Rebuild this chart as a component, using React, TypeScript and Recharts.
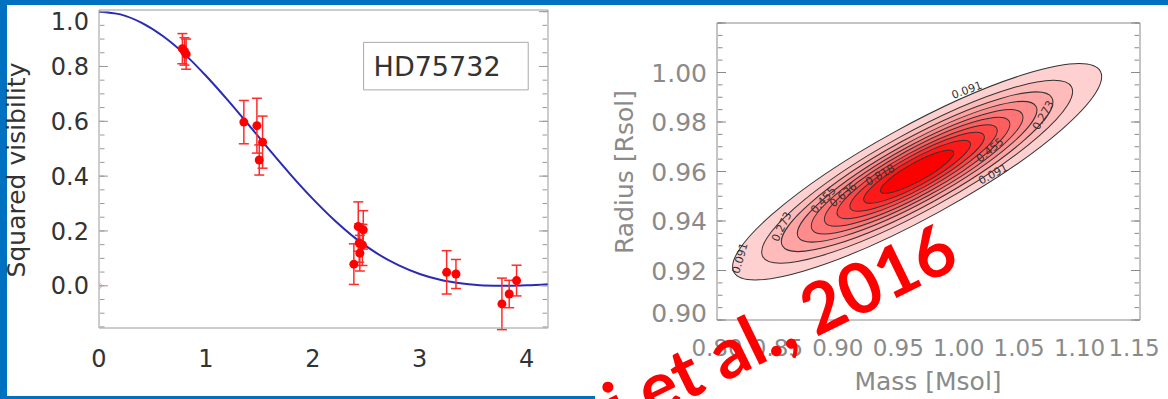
import React from "react";
import {
  ComposedChart,
  ScatterChart,
  Line,
  Scatter,
  XAxis,
  YAxis,
  ErrorBar,
  ReferenceArea,
} from "recharts";

// ---------- left panel: squared visibility of HD75732 ----------
const fitX = [0, 0.2, 0.4, 0.6, 0.8, 1.0, 1.2, 1.4, 1.6, 1.8, 2.0, 2.2, 2.4, 2.6, 2.8, 3.0, 3.2, 3.4, 3.6, 3.8, 4.0, 4.2];
const fitV2 = [1.0, 0.99, 0.959, 0.91, 0.845, 0.766, 0.679, 0.587, 0.493, 0.402, 0.317, 0.24, 0.173, 0.118, 0.075, 0.043, 0.021, 0.008, 0.001, 0.0, 0.002, 0.006];

const obsX = [0.78, 0.8, 0.815, 1.355, 1.477, 1.53, 1.499, 2.384, 2.425, 2.472, 2.434, 2.464, 2.44, 3.252, 3.339, 3.769, 3.837, 3.906];
const obsV2 = [0.865, 0.855, 0.845, 0.597, 0.584, 0.524, 0.459, 0.079, 0.216, 0.204, 0.156, 0.149, 0.119, 0.049, 0.043, -0.066, -0.03, 0.019];
const obsErr = [0.055, 0.05, 0.055, 0.079, 0.1, 0.095, 0.055, 0.074, 0.09, 0.07, 0.07, 0.075, 0.065, 0.079, 0.053, 0.094, 0.05, 0.056];

const visXTicks = [0, 1, 2, 3, 4];
const visYTicks = [0, 0.2, 0.4, 0.6, 0.8, 1.0];
const starName = "HD75732";

// ---------- right panel: mass / radius probability map ----------
const massTicks = [0.8, 0.85, 0.9, 0.95, 1.0, 1.05, 1.1, 1.15];
const radiusTicks = [0.9, 0.92, 0.94, 0.96, 0.98, 1.0];

const levels = [0.091, 0.182, 0.273, 0.364, 0.455, 0.545, 0.636, 0.727, 0.818, 0.909];
const peakMass = 0.9656;
const peakRadius = 0.9599;
// end of the long axis and end of the short axis of each contour
const majorEndMass = [1.1172, 1.0933, 1.0771, 1.064, 1.0525, 1.0418, 1.0314, 1.0208, 1.0095, 0.9958];
const majorEndRadius = [1.0005, 0.9942, 0.9898, 0.9863, 0.9832, 0.9803, 0.9775, 0.9747, 0.9717, 0.968];
const minorEndMass = [0.9473, 0.9502, 0.9521, 0.9537, 0.9551, 0.9564, 0.9577, 0.9589, 0.9603, 0.9619];
const minorEndRadius = [0.9761, 0.9736, 0.9719, 0.9704, 0.9692, 0.9681, 0.9669, 0.9658, 0.9646, 0.9632];

const labelText = ["0.091", "0.091", "0.091", "0.273", "0.273", "0.455", "0.455", "0.636", "0.818"];
const labelMass = [1.0067, 0.8191, 1.0285, 0.8536, 1.0701, 0.8881, 1.026, 0.9046, 0.935];
const labelRadius = [0.9928, 0.925, 0.9589, 0.9377, 0.9827, 0.9484, 0.9686, 0.9505, 0.9585];

// styles
const bandFill = ["#ffd0d0", "#ffbaba", "#ffa3a3", "#ff8c8c", "#ff7575", "#ff5e5e", "#ff4747", "#ff3030", "#ff1818", "#ff0000"];
const labelAngle = [-20, -74, -28, -64, -60, -48, -40, -40, -30];
const FONT = "DejaVu Sans";

const steps = (from: number, to: number, step: number) =>
  Array.from({ length: Math.round((to - from) / step) + 1 }, (_, i) => +(from + i * step).toFixed(4));

const Blank = () => <g />;

// inward tick marks on all four sides of a plot box
function frameAxes(
  xDomain: [number, number],
  yDomain: [number, number],
  xMajor: number[],
  xMinor: number[],
  yMajor: number[],
  yMinor: number[],
  color: string,
  big: number,
  small: number
) {
  const c = { tick: Blank, tickLine: { stroke: color }, interval: 0 as const, allowDataOverflow: true, type: "number" as const };
  return [
    <XAxis key="xb1" xAxisId="xb1" orientation="bottom" mirror height={1} domain={xDomain} ticks={xMajor} tickSize={big} axisLine={false} {...c} />,
    <XAxis key="xb2" xAxisId="xb2" orientation="bottom" mirror height={1} domain={xDomain} ticks={xMinor} tickSize={small} axisLine={false} {...c} />,
    <XAxis key="xt1" xAxisId="xt1" orientation="top" mirror height={1} domain={xDomain} ticks={xMajor} tickSize={big} axisLine={{ stroke: color }} {...c} />,
    <XAxis key="xt2" xAxisId="xt2" orientation="top" mirror height={1} domain={xDomain} ticks={xMinor} tickSize={small} axisLine={false} {...c} />,
    <YAxis key="yl1" yAxisId="yl1" orientation="left" mirror width={1} domain={yDomain} ticks={yMajor} tickSize={big} axisLine={false} {...c} />,
    <YAxis key="yl2" yAxisId="yl2" orientation="left" mirror width={1} domain={yDomain} ticks={yMinor} tickSize={small} axisLine={false} {...c} />,
    <YAxis key="yr1" yAxisId="yr1" orientation="right" mirror width={1} domain={yDomain} ticks={yMajor} tickSize={big} axisLine={{ stroke: color }} {...c} />,
    <YAxis key="yr2" yAxisId="yr2" orientation="right" mirror width={1} domain={yDomain} ticks={yMinor} tickSize={small} axisLine={false} {...c} />,
  ];
}

const RedDot = (p: any) => <circle cx={p.cx} cy={p.cy} r={4.5} fill="#ff0000" />;
const Diamond = (p: any) => (
  <polygon
    points={`${p.cx},${p.cy - 3.5} ${p.cx + 3.5},${p.cy} ${p.cx},${p.cy + 3.5} ${p.cx - 3.5},${p.cy}`}
    fill="none"
    stroke="#ff9a9a"
    strokeWidth={1}
  />
);

function drawEllipse(p: any, fill: string) {
  const pts = p.points;
  if (!pts || pts.length < 3) return <g />;
  const [c, m, n] = pts;
  const a = Math.hypot(m.x - c.x, m.y - c.y);
  const ux = (m.x - c.x) / a;
  const uy = (m.y - c.y) / a;
  const b = Math.abs((n.x - c.x) * -uy + (n.y - c.y) * ux);
  const ang = (Math.atan2(uy, ux) * 180) / Math.PI;
  return (
    <ellipse
      cx={c.x}
      cy={c.y}
      rx={a}
      ry={b}
      transform={`rotate(${ang} ${c.x} ${c.y})`}
      fill={fill}
      stroke="#333"
      strokeWidth={1}
    />
  );
}

const ContourLabel = (p: any) => (
  <text
    x={p.cx}
    y={p.cy}
    transform={`rotate(${labelAngle[p.payload.i]} ${p.cx} ${p.cy})`}
    textAnchor="middle"
    dominantBaseline="central"
    fontSize={11}
    fontFamily={FONT}
    fill="#333"
  >
    {p.payload.label}
  </text>
);

// IDL nudges the end labels inside the box
const VisTick = (p: any) => (
  <text
    x={p.x}
    y={p.y + (p.payload.value > 0.99 ? 10 : 0)}
    dy="0.36em"
    textAnchor="end"
    fill="#333"
    fontSize={24}
    fontFamily={FONT}
  >
    {Number(p.payload.value).toFixed(1)}
  </text>
);

const RadiusTick = (p: any) => (
  <text
    x={p.x}
    y={p.y + (p.payload.value < 0.905 ? -7 : 0)}
    dy="0.36em"
    textAnchor="end"
    fill="#8a8a8a"
    fontSize={25}
    fontFamily={FONT}
  >
    {Number(p.payload.value).toFixed(2)}
  </text>
);

const MassTick = (p: any) => (
  <text
    x={p.x + (p.payload.value > 1.14 ? -6 : 0)}
    y={p.y}
    dy="0.71em"
    textAnchor="middle"
    fill="#8a8a8a"
    fontSize={23}
    fontFamily={FONT}
  >
    {Number(p.payload.value).toFixed(2)}
  </text>
);

export default function App() {
  const fit = fitX.map((x, i) => ({ x, y: fitV2[i] }));
  const obs = obsX.map((x, i) => ({ x, y: obsV2[i], err: obsErr[i] }));
  const origin = [{ x: 0, y: 0 }];

  const visXDom: [number, number] = [0, 4.2];
  const visYDom: [number, number] = [-0.154, 1.006];
  const mDom: [number, number] = [0.8, 1.15];
  const rDom: [number, number] = [0.9, 1.02];
  const leftFrame = "#9a9a9a";
  const rightFrame = "#8a8a8a";

  const labels = labelText.map((label, i) => ({ m: labelMass[i], r: labelRadius[i], label, i }));

  return (
    <div style={{ position: "fixed", left: 0, top: 0, width: 1168, height: 399, background: "#fff", overflow: "hidden" }}>
      <div style={{ position: "absolute", left: 0, top: 0 }}>
        <ComposedChart width={560} height={399} margin={{ top: 10, right: 12, bottom: 0, left: 0 }}>
          <XAxis
            dataKey="x"
            type="number"
            domain={visXDom}
            ticks={visXTicks}
            interval={0}
            allowDataOverflow
            tickLine={false}
            tickSize={6}
            tickMargin={16}
            height={71}
            axisLine={{ stroke: leftFrame }}
            tick={{ fill: "#333", fontSize: 24, fontFamily: FONT }}
          />
          <YAxis
            dataKey="y"
            type="number"
            domain={visYDom}
            ticks={visYTicks}
            interval={0}
            allowDataOverflow
            tickLine={false}
            tickSize={6}
            tickMargin={4}
            width={99}
            axisLine={{ stroke: leftFrame }}
            tick={VisTick}
          />
          {frameAxes(visXDom, visYDom, visXTicks, steps(0, 4.2, 0.1), visYTicks, steps(-0.15, 1.0, 0.05), leftFrame, 9, 4.5)}
          <ReferenceArea
            x1={2.475}
            x2={4.015}
            y1={0.7146}
            y2={0.888}
            fill="#fff"
            fillOpacity={1}
            stroke="#aaa"
            strokeWidth={1}
            label={{ value: starName, position: "insideLeft", offset: 10, fill: "#333", fontSize: 27, fontFamily: FONT }}
          />
          <Line data={fit} dataKey="y" type="monotone" stroke="#2a2ab5" strokeWidth={2} dot={false} isAnimationActive={false} />
          <Scatter data={origin} dataKey="y" shape={Diamond} isAnimationActive={false} />
          <Scatter data={obs} dataKey="y" shape={RedDot} isAnimationActive={false}>
            <ErrorBar dataKey="err" direction="y" width={5} stroke="#ff2a2a" strokeWidth={1.5} />
          </Scatter>
        </ComposedChart>
      </div>

      <div style={{ position: "absolute", left: 600, top: 0 }}>
        <ScatterChart width={560} height={399} margin={{ top: 23, right: 20, bottom: 0, left: 0 }}>
          <XAxis
            dataKey="m"
            type="number"
            domain={mDom}
            ticks={massTicks}
            interval={0}
            allowDataOverflow
            tickLine={false}
            tickSize={6}
            tickMargin={14}
            height={79}
            axisLine={{ stroke: rightFrame }}
            tick={MassTick}
          />
          <YAxis
            dataKey="r"
            type="number"
            domain={rDom}
            ticks={radiusTicks}
            interval={0}
            allowDataOverflow
            tickLine={false}
            tickSize={6}
            tickMargin={4}
            width={117}
            axisLine={{ stroke: rightFrame }}
            tick={RadiusTick}
          />
          {frameAxes(mDom, rDom, massTicks, steps(0.8, 1.15, 0.01), steps(0.9, 1.02, 0.02), steps(0.9, 1.02, 0.005), rightFrame, 9, 4.5)}
          {levels.map((lv, k) => (
            <Scatter
              key={lv}
              data={[
                { m: peakMass, r: peakRadius },
                { m: majorEndMass[k], r: majorEndRadius[k] },
                { m: minorEndMass[k], r: minorEndRadius[k] },
              ]}
              dataKey="r"
              shape={Blank}
              lineType="joint"
              line={(p: any) => drawEllipse(p, bandFill[k])}
              isAnimationActive={false}
            />
          ))}
          <Scatter data={labels} dataKey="r" shape={ContourLabel} isAnimationActive={false} />
        </ScatterChart>
      </div>

      {/* slide frame */}
      <div style={{ position: "absolute", left: 0, top: 0, width: 1168, height: 5, background: "#0070c0" }} />
      <div style={{ position: "absolute", left: 0, top: 0, width: 7, height: 399, background: "#0070c0" }} />
      <div style={{ position: "absolute", left: 0, top: 396, width: 595, height: 3, background: "#0070c0" }} />

      <svg width={1168} height={399} style={{ position: "absolute", left: 0, top: 0, pointerEvents: "none" }}>
        <text x={25} y={170} transform="rotate(-90 25 170)" textAnchor="middle" fontSize={25} fontFamily={FONT} fill="#333">
          Squared visibility
        </text>
        <text x={633} y={172} transform="rotate(-90 633 172)" textAnchor="middle" fontSize={25} fontFamily={FONT} fill="#8a8a8a">
          Radius [Rsol]
        </text>
        <text x={928} y={390} textAnchor="middle" fontSize={25} fontFamily={FONT} fill="#8a8a8a">
          Mass [Msol]
        </text>
        <text
          x={962}
          y={266}
          textAnchor="end"
          transform="rotate(-26 962 266)"
          fontSize={70}
          fontWeight={700}
          fontFamily="Lato"
          fill="#ff0000"
        >
          Ligi et al., 2016
        </text>
      </svg>
    </div>
  );
}
